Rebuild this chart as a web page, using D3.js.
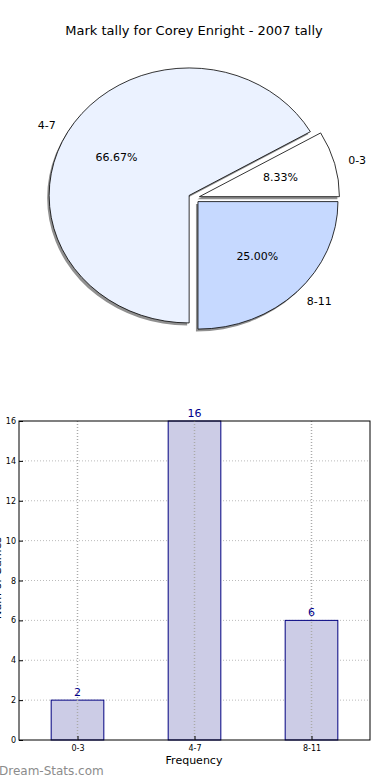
<!DOCTYPE html>
<html><head><meta charset="utf-8">
<script src="https://cdn.jsdelivr.net/npm/d3@7"></script>
<style>body{margin:0;background:#fff;}svg{display:block;font-family:"DejaVu Sans",sans-serif;}</style>
</head><body>
<svg id="c" width="390" height="780"></svg>
<script>
const title = "Mark tally for Corey Enright - 2007 tally";
const categories = ["0-3", "4-7", "8-11"];
const counts = [2, 16, 6];
const pieColors = ["#ffffff", "#ebf2ff", "#c6d9ff"];
const yTicks = [0, 2, 4, 6, 8, 10, 12, 14, 16];
const xLabel = "Frequency";
const yLabel = "Num of Games";
const watermark = "Dream-Stats.com";

const svg = d3.select("#c");
svg.append("text").attr("x", 194).attr("y", 35).attr("text-anchor", "middle")
  .attr("font-size", 13).attr("fill", "#000").text(title);

// ---- Pie ----
const cx = 194, cy = 198, rx = 140, ry = 127.5, explode = 0.04;
const total = d3.sum(counts);
const pie = d3.pie().sort(null).startAngle(Math.PI / 2).endAngle(Math.PI / 2 - 2 * Math.PI);
const arcs = pie(counts);
const arc = d3.arc().innerRadius(0).outerRadius(1);
const gp = svg.append("g");
function off(d, k) {
  const m = (d.startAngle + d.endAngle) / 2;
  return [Math.sin(m) * k * rx, -Math.cos(m) * k * ry];
}
arcs.forEach((d) => {
  const [ox, oy] = off(d, explode);
  gp.append("path").attr("d", arc(d))
    .attr("transform", `translate(${cx + ox - 2},${cy + oy + 2.5}) scale(${rx},${ry})`)
    .attr("fill", "#909090");
});
arcs.forEach((d, i) => {
  const [ox, oy] = off(d, explode);
  gp.append("path").attr("d", arc(d))
    .attr("transform", `translate(${cx + ox},${cy + oy}) scale(${rx},${ry})`)
    .attr("fill", pieColors[i]).attr("stroke", "#000").attr("stroke-width", 0.8)
    .attr("vector-effect", "non-scaling-stroke");
});
arcs.forEach((d, i) => {
  const [ox, oy] = off(d, explode);
  const m = (d.startAngle + d.endAngle) / 2;
  const lx = cx + ox + Math.sin(m) * 1.1 * rx, ly = cy + oy - Math.cos(m) * 1.1 * ry;
  gp.append("text").attr("x", lx).attr("y", ly).attr("dy", "0.35em")
    .attr("text-anchor", Math.sin(m) < 0 ? "end" : "start")
    .attr("font-size", 11).text(categories[i]);
  const px = cx + ox + Math.sin(m) * 0.6 * rx, py = cy + oy - Math.cos(m) * 0.6 * ry;
  gp.append("text").attr("x", px).attr("y", py).attr("dy", "0.35em")
    .attr("text-anchor", "middle").attr("font-size", 11)
    .text((counts[i] / total * 100).toFixed(2) + "%");
});

// ---- Bar ----
const L = 19, R = 370, T = 421, B = 740;
const x = d3.scaleLinear().domain([-0.5, categories.length - 0.5]).range([L, R]);
const y = d3.scaleLinear().domain([0, 16]).range([B, T]);
const gb = svg.append("g");
gb.selectAll(".hg").data(yTicks.slice(1, -1)).join("line")
  .attr("x1", L).attr("x2", R).attr("y1", d => y(d)).attr("y2", d => y(d))
  .attr("stroke", "#bbb").attr("stroke-dasharray", "1,2");
const bw = 0.45;
gb.selectAll(".bar").data(counts).join("rect")
  .attr("x", (d, i) => x(i - bw / 2)).attr("width", x(bw) - x(0))
  .attr("y", d => y(d)).attr("height", d => B - y(d))
  .attr("fill", "#ccccE6").attr("stroke", "#000080").attr("stroke-width", 1);
gb.selectAll(".vg").data(categories).join("line")
  .attr("x1", (d, i) => x(i)).attr("x2", (d, i) => x(i)).attr("y1", T).attr("y2", B)
  .attr("stroke", "#aaa").attr("stroke-dasharray", "1,2").attr("stroke-width", 1.5);
gb.selectAll(".vl").data(counts).join("text")
  .attr("x", (d, i) => x(i)).attr("y", d => y(d) - 4).attr("text-anchor", "middle")
  .attr("font-size", 11).attr("fill", "#00008b").text(d => d);
gb.append("rect").attr("x", L).attr("y", T).attr("width", R - L).attr("height", B - T)
  .attr("fill", "none").attr("stroke", "#000").attr("stroke-width", 1);
const ya = d3.axisLeft(y).tickValues(yTicks).tickSize(-4).tickPadding(3);
const yg = gb.append("g").attr("transform", `translate(${L},0)`).call(ya);
yg.select(".domain").remove();
yg.selectAll("text").attr("font-size", 8).attr("font-family", "DejaVu Sans");
const xa = d3.axisBottom(x).tickValues(d3.range(categories.length)).tickFormat(i => categories[i]).tickSize(-4).tickPadding(5);
const xg = gb.append("g").attr("transform", `translate(0,${B})`).call(xa);
xg.select(".domain").remove();
xg.selectAll("text").attr("font-size", 8).attr("font-family", "DejaVu Sans");
gb.append("text").attr("x", 194).attr("y", 764).attr("text-anchor", "middle")
  .attr("font-size", 11).text(xLabel);
gb.append("text").attr("transform", `translate(1,578) rotate(-90)`).attr("text-anchor", "middle")
  .attr("font-size", 11).text(yLabel);
svg.append("text").attr("x", -1).attr("y", 775).attr("font-size", 12)
  .attr("fill", "#8c8c8c").text(watermark);
</script>
</body></html>
